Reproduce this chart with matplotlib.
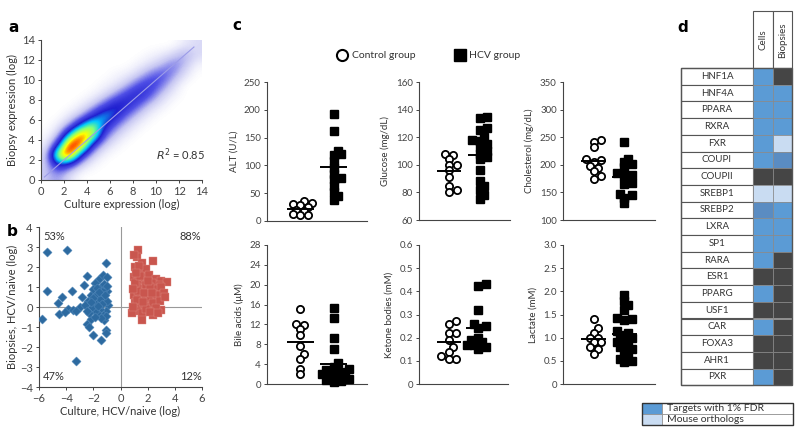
import numpy as np
import matplotlib
matplotlib.use('Agg')
import matplotlib.pyplot as plt
from matplotlib.colors import LinearSegmentedColormap
from matplotlib.patches import Rectangle

plt.rcParams['font.family'] = ['Lato', 'DejaVu Sans']
plt.rcParams['text.color'] = '#333333'
plt.rcParams['axes.labelcolor'] = '#333333'
plt.rcParams['xtick.color'] = '#333333'
plt.rcParams['ytick.color'] = '#333333'

# ---- panel a: density of expression values, 1-unit grid (rows y=0.5..13.5, cols x=0.5..13.5)
density_a = np.array([
    [0.12, 0.18, 0.06, 0, 0, 0, 0, 0, 0, 0, 0, 0, 0, 0],
    [0.10, 0.38, 0.28, 0.08, 0.02, 0, 0, 0, 0, 0, 0, 0, 0, 0],
    [0.08, 0.80, 0.95, 0.35, 0.10, 0.02, 0, 0, 0, 0, 0, 0, 0, 0],
    [0.03, 0.35, 1.00, 0.90, 0.30, 0.10, 0.03, 0, 0, 0, 0, 0, 0, 0],
    [0.01, 0.10, 0.55, 0.92, 0.75, 0.25, 0.10, 0.03, 0, 0, 0, 0, 0, 0],
    [0, 0.03, 0.15, 0.45, 0.70, 0.42, 0.22, 0.10, 0.03, 0, 0, 0, 0, 0],
    [0, 0, 0.04, 0.12, 0.32, 0.52, 0.40, 0.22, 0.10, 0.03, 0, 0, 0, 0],
    [0, 0, 0, 0.03, 0.10, 0.25, 0.42, 0.38, 0.24, 0.10, 0.04, 0, 0, 0],
    [0, 0, 0, 0, 0.02, 0.07, 0.18, 0.33, 0.38, 0.26, 0.10, 0.03, 0, 0],
    [0, 0, 0, 0, 0, 0.02, 0.05, 0.13, 0.28, 0.33, 0.22, 0.08, 0, 0],
    [0, 0, 0, 0, 0, 0, 0.02, 0.04, 0.10, 0.22, 0.28, 0.18, 0.06, 0],
    [0, 0, 0, 0, 0, 0, 0, 0, 0.03, 0.07, 0.14, 0.23, 0.13, 0.02],
    [0, 0, 0, 0, 0, 0, 0, 0, 0, 0.02, 0.04, 0.09, 0.18, 0.08],
    [0, 0, 0, 0, 0, 0, 0, 0, 0, 0, 0, 0, 0.04, 0.08],
])
r2_text = '$R^2$ = 0.85'

# ---- panel b: HCV/naive fold changes
blue_x = [-5.4, -3.95, -1.1, -5.4, -4.3, -3.6, -2.85, -4.6, -5.8, -4.5, -3.85, -3.5, -4.1, -3.3,
          -2.0, -1.4, -1.05, -1.1, -2.5, -2.3, -1.25, -2.45, -1.6, -1.3, -1.0, -2.7, -1.9, -3.0,
          -3.3, -2.2, -2.4, -2.2, -2.0, -1.8, -1.6, -1.4, -1.2, -1.0, -0.95, -1.1, -1.3, -1.5,
          -1.7, -1.9, -2.1, -2.3, -2.6, -1.8, -1.5, -1.2, -1.0, -1.35, -1.65, -2.0, -1.05, -1.45,
          -1.9, -2.5, -1.25, -1.75, -1.0, -2.15, -1.55, -1.15]
blue_y = [2.75, 2.85, 2.2, 0.8, 0.5, 0.8, 0.5, 0.2, -0.6, -0.35, -0.1, -0.15, -0.25, -2.7,
          -1.4, -1.65, -1.15, -1.3, -0.85, -1.0, -0.65, 1.55, 1.4, 1.6, 1.5, 1.1, 1.2, 0.0,
          -0.2, -0.6, 0.3, 0.6, 0.9, 0.2, 0.7, 1.0, 0.4, 0.8, 0.1, -0.2, -0.4, -0.1,
          -0.3, -0.2, 0.0, -0.3, 0.1, 0.6, 0.4, 0.9, 0.3, 0.15, 0.05, 0.45, -0.45, -0.55,
          -0.5, -0.2, 1.15, 0.95, 1.05, 0.25, 0.75, 0.6]
red_x = [1.3, 1.2, 1.0, 2.4, 1.6, 1.1, 1.4, 1.9, 1.0, 1.3, 1.7, 2.1, 2.6, 3.0, 3.4, 2.8, 2.3,
         1.2, 1.6, 2.0, 2.5, 3.0, 1.0, 1.4, 1.8, 2.2, 2.7, 3.2, 1.1, 1.5, 2.0, 2.4, 2.9, 1.2,
         1.6, 0.85, 2.4, 3.0, 1.55, 1.9, 2.6, 1.3, 1.85, 2.15, 1.05, 0.95, 1.45, 2.0, 1.75,
         2.35, 1.25, 1.65, 0.95, 2.2, 3.3, 2.75, 1.35, 1.15]
red_y = [2.85, 2.5, 2.6, 2.3, 2.2, 2.0, 1.8, 1.9, 1.5, 1.3, 1.5, 1.6, 1.4, 1.3, 1.25, 1.1, 1.2,
         1.0, 0.9, 0.8, 0.9, 1.0, 0.6, 0.5, 0.4, 0.5, 0.6, 0.7, 0.2, 0.1, 0.0, 0.2, 0.3, -0.2,
         -0.3, -0.3, -0.4, -0.15, -0.65, -0.1, -0.05, 0.8, 1.1, 1.0, 1.2, 0.9, 1.55, 1.3, 0.7,
         0.7, 0.35, 0.25, 0.0, -0.25, 0.5, -0.3, 2.05, 1.7]
quadrant_labels = ['53%', '88%', '47%', '12%']

# ---- panel c: serum chemistry, control vs HCV
alt_ctrl = [36, 33, 30, 28, 25, 20, 18, 12, 10, 10]
alt_hcv = [192, 162, 126, 118, 120, 108, 95, 85, 78, 75, 63, 52, 45, 38]
glu_ctrl = [108, 107, 104, 100, 100, 96, 91, 85, 82, 80]
glu_hcv = [135, 134, 127, 125, 120, 118, 117, 115, 113, 110, 108, 106, 104, 96, 88, 85, 82, 78, 75]
chol_ctrl = [245, 242, 232, 210, 208, 205, 198, 195, 188, 180, 175]
chol_hcv = [241, 211, 205, 201, 196, 185, 182, 180, 167, 165, 148, 145, 140, 130]
bile_ctrl = [15.1, 12.1, 11.8, 11.0, 9.9, 7.6, 6.0, 5.1, 3.1, 2.0]
bile_hcv = [15.4, 13.2, 9.3, 7.0, 4.2, 3.5, 3.0, 2.8, 2.5, 2.2, 2.0, 1.8, 1.5, 1.3, 1.0, 0.8, 0.6, 0.5]
ket_ctrl = [0.27, 0.26, 0.22, 0.22, 0.19, 0.16, 0.14, 0.12, 0.11, 0.11]
ket_hcv = [0.43, 0.425, 0.32, 0.26, 0.25, 0.24, 0.20, 0.19, 0.18, 0.17, 0.17, 0.16, 0.15]
lac_ctrl = [1.4, 1.2, 1.1, 1.0, 1.0, 0.9, 0.9, 0.8, 0.75, 0.65]
lac_hcv = [1.92, 1.8, 1.7, 1.6, 1.42, 1.4, 1.38, 1.15, 1.1, 1.05, 1.0, 0.95, 0.9, 0.85, 0.8,
           0.75, 0.7, 0.6, 0.55, 0.5, 0.48]
c_labels = ['ALT (U/L)', 'Glucose (mg/dL)', 'Cholesterol (mg/dL)',
            'Bile acids (\u03bcM)', 'Ketone bodies (mM)', 'Lactate (mM)']

# ---- panel d: transcription factor targets
genes = ['HNF1A', 'HNF4A', 'PPARA', 'RXRA', 'FXR', 'COUPI', 'COUPII', 'SREBP1', 'SREBP2',
         'LXRA', 'SP1', 'RARA', 'ESR1', 'PPARG', 'USF1', 'CAR', 'FOXA3', 'AHR1', 'PXR']
# T = target (1% FDR), M = mouse ortholog, X = both, N = none
cells_status = ['T', 'T', 'T', 'T', 'T', 'T', 'N', 'M', 'X', 'T', 'T', 'T', 'N', 'T', 'N',
                'T', 'N', 'N', 'T']
biopsy_status = ['N', 'T', 'T', 'T', 'M', 'X', 'N', 'M', 'T', 'T', 'T', 'N', 'N', 'N', 'N',
                 'N', 'N', 'N', 'N']
d_columns = ['Cells', 'Biopsies']
d_legend = ['Targets with 1% FDR', 'Mouse orthologs']

status_colors = {'T': '#5b9bd5', 'M': '#c9dcf2', 'X': '#5a8cc2', 'N': '#454545'}

W, H = 800, 446
fig = plt.figure(figsize=(W / 100, H / 100), dpi=100)


def px_axes(l, t, r, b):
    return fig.add_axes([l / W, 1 - b / H, (r - l) / W, (b - t) / H])


def style_axes(ax, fs=8):
    for s in ['top', 'right']:
        ax.spines[s].set_visible(False)
    for s in ['left', 'bottom']:
        ax.spines[s].set_color('#444444')
        ax.spines[s].set_linewidth(0.8)
    ax.tick_params(labelsize=fs, length=2.5, width=0.7, colors='#444444', pad=2)


# panel a
ax = px_axes(41, 40, 202, 180)
cmap = LinearSegmentedColormap.from_list('dens', ['#ffffff', '#c4c4f2', '#5050e6', '#2020d0',
                                                   '#00c8ff', '#7fff7f', '#ffff00', '#ff3000',
                                                   '#b00000'])
ax.imshow(np.clip(density_a, 0, 1), extent=(0, 14, 0, 14), origin='lower', cmap=cmap,
          vmin=0, vmax=1, interpolation='bicubic', aspect='auto')
ax.plot([0.3, 13.3], [0.3, 13.3], color='#9c9ce8', lw=0.8)
ax.set_xlim(0, 14)
ax.set_ylim(0, 14)
ax.set_xticks(range(0, 15, 2))
ax.set_yticks(range(0, 15, 2))
ax.text(10.0, 2.5, r2_text, fontsize=8, va='center')
ax.set_xlabel('Culture expression (log)', fontsize=8, labelpad=1)
ax.set_ylabel('Biopsy expression (log)', fontsize=8, labelpad=3)
style_axes(ax)

# panel b
ax = px_axes(39, 227, 202, 387)
ax.axvline(0, color='#999999', lw=0.8, zorder=1)
ax.axhline(0, color='#999999', lw=0.8, zorder=1)
ax.scatter(blue_x, blue_y, marker='D', s=22, color='#2d6aa0', edgecolor='#5a8fc0', lw=0.3, zorder=3)
ax.scatter(red_x, red_y, marker='s', s=26, color='#c9564e', edgecolor='#e08a80', lw=0.3, zorder=3)
ax.set_xlim(-6, 6)
ax.set_ylim(-4, 4)
ax.set_xticks(range(-6, 7, 2))
ax.set_yticks(range(-4, 5))
ax.text(-5.7, 3.5, quadrant_labels[0], fontsize=8, va='center')
ax.text(5.95, 3.5, quadrant_labels[1], fontsize=8, va='center', ha='right')
ax.text(-5.7, -3.5, quadrant_labels[2], fontsize=8, va='center')
ax.text(5.95, -3.5, quadrant_labels[3], fontsize=8, va='center', ha='right')
ax.set_xlabel('Culture, HCV/naive (log)', fontsize=8, labelpad=1)
ax.set_ylabel('Biopsies, HCV/naive (log)', fontsize=8, labelpad=1)
style_axes(ax)


def swarm(vals, ylim, h_px, size_px=7.0, xunit_px=33.0):
    # simple beeswarm: shift points sideways until they stop overlapping too much
    vals = np.asarray(vals, float)
    ys = (vals - ylim[0]) / (ylim[1] - ylim[0]) * h_px
    offs = np.zeros(len(vals))
    placed = []
    step = size_px * 0.55
    for i in np.argsort(vals):
        for k in [0, 1, -1, 2, -2, 3, -3, 4, -4]:
            x = k * step
            if all((x - px) ** 2 + (ys[i] - py) ** 2 >= (size_px * 0.7) ** 2 for px, py in placed):
                break
        placed.append((x, ys[i]))
        offs[i] = x / xunit_px
    return offs


c_sets = [
    ((267, 82, 367, 221), alt_ctrl, alt_hcv, (0, 250), 50, None),
    ((419, 82, 510, 220), glu_ctrl, glu_hcv, (60, 160), 20, None),
    ((563, 82, 655, 220), chol_ctrl, chol_hcv, (100, 350), 50, None),
    ((267, 245, 367, 384), bile_ctrl, bile_hcv, (0, 28), 4, None),
    ((419, 245, 508, 384), ket_ctrl, ket_hcv, (0, 0.6), 0.1, '{:.1f}'),
    ((563, 245, 655, 384), lac_ctrl, lac_hcv, (0, 3.0), 0.5, '{:.1f}'),
]
for (box, ctrl, hcv, ylim, step, fmt), label in zip(c_sets, c_labels):
    ax = px_axes(*box)
    h_px = box[3] - box[1]
    xunit = (box[2] - box[0]) / 3.0
    xc = 1 + swarm(ctrl, ylim, h_px, xunit_px=xunit)
    xh = 2 + swarm(hcv, ylim, h_px, xunit_px=xunit)
    ax.plot(xc, ctrl, 'o', ms=5.2, mfc='white', mec='black', mew=1.3, zorder=3, clip_on=False)
    ax.plot(xh, hcv, 's', ms=5.2, color='black', zorder=3, clip_on=False)
    ax.hlines(np.mean(ctrl), 0.6, 1.4, color='black', lw=1.4, zorder=4)
    ax.hlines(np.mean(hcv), 1.6, 2.4, color='black', lw=1.4, zorder=4)
    ax.set_xlim(0, 3)
    ax.set_ylim(*ylim)
    ticks = np.arange(ylim[0], ylim[1] + step / 2, step)
    ax.set_yticks(ticks)
    if fmt:
        ax.set_yticklabels(['0' if t == 0 else fmt.format(t) for t in ticks])
    ax.set_xticks([])
    ax.set_ylabel(label, fontsize=7, labelpad=4)
    style_axes(ax, fs=7)

# panel-wide overlay: letters, legend of c, table of d
axd = fig.add_axes([0, 0, 1, 1])
axd.set_xlim(0, W)
axd.set_ylim(H, 0)
axd.axis('off')
for letter, (lx, ly) in zip('abcd', [(8, 27), (7, 232), (232, 25), (677, 27)]):
    axd.text(lx, ly, letter, fontsize=11, fontweight='bold', color='black', va='center', ha='left',
             family=['DejaVu Sans'])

axd.plot([342], [55], 'o', ms=8, mfc='white', mec='black', mew=1.5)
axd.text(352, 55, 'Control group', fontsize=7.5, va='center')
axd.plot([460], [55], 's', ms=8, color='black')
axd.text(469, 55, 'HCV group', fontsize=7.5, va='center')

gx0, gx1, cx1, bx1 = 681, 753, 773, 792
top, row0, row_h = 11, 68, 16.7
edge = '#555555'
for (x0, x1), name in zip([(gx1, cx1), (cx1, bx1)], d_columns):
    axd.add_patch(Rectangle((x0, top), x1 - x0, row0 - top, fc='white', ec=edge, lw=0.8))
    axd.text((x0 + x1) / 2, 40, name, rotation=90, fontsize=7, ha='center', va='center')
for i, g in enumerate(genes):
    y0 = row0 + i * row_h
    axd.add_patch(Rectangle((gx0, y0), gx1 - gx0, row_h, fc='white', ec=edge, lw=0.8))
    axd.text((gx0 + gx1) / 2, y0 + row_h / 2, g, fontsize=7, ha='center', va='center')
    axd.add_patch(Rectangle((gx1, y0), cx1 - gx1, row_h, fc=status_colors[cells_status[i]],
                            ec='#888888', lw=0.5))
    axd.add_patch(Rectangle((cx1, y0), bx1 - cx1, row_h, fc=status_colors[biopsy_status[i]],
                            ec='#888888', lw=0.5))
axd.add_patch(Rectangle((gx0, row0), bx1 - gx0, row_h * len(genes), fc='none', ec=edge, lw=1.0))

lx0, lx1, lsw = 642, 793, 662
ly0, lrow = 403, 11.2
for j, (lab, c) in enumerate(zip(d_legend, ['T', 'M'])):
    y0 = ly0 + j * lrow
    axd.add_patch(Rectangle((lx0, y0), lsw - lx0, lrow, fc=status_colors[c], ec='#888888', lw=0.5))
    axd.add_patch(Rectangle((lsw, y0), lx1 - lsw, lrow, fc='white', ec='#888888', lw=0.5))
    axd.text(lsw + 5, y0 + lrow / 2, lab, fontsize=7.5, va='center')
axd.add_patch(Rectangle((lx0, ly0), lx1 - lx0, 2 * lrow, fc='none', ec='#333333', lw=1.0))

fig.savefig('out.png', dpi=100)
